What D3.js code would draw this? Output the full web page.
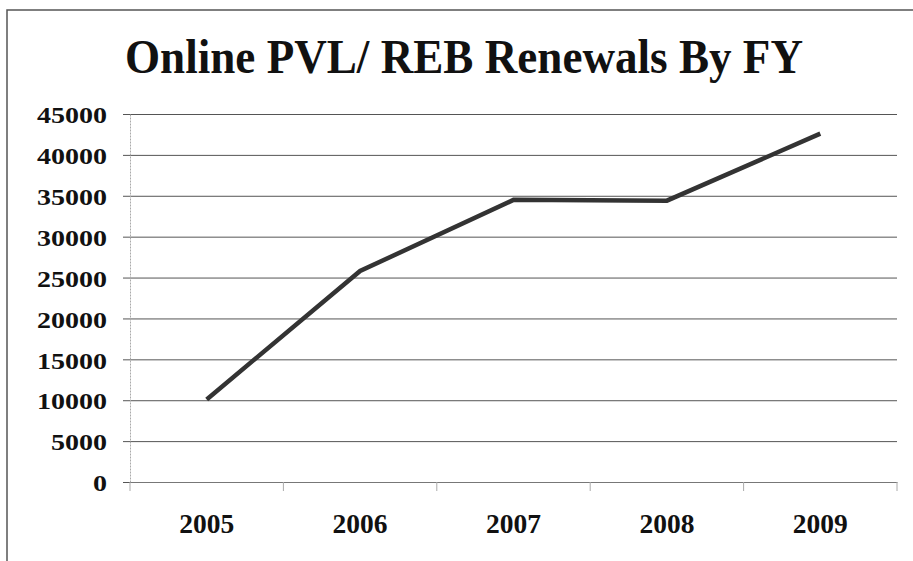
<!DOCTYPE html>
<html>
<head>
<meta charset="utf-8">
<script src="https://cdn.jsdelivr.net/npm/d3@7"></script>
<style>
  html, body { margin: 0; padding: 0; background: #fff; }
  svg { display: block; }
</style>
</head>
<body>
<svg id="chart" width="913" height="561"></svg>
<script>
const title = "Online PVL/ REB Renewals By FY";
const categories = ["2005", "2006", "2007", "2008", "2009"];
const renewals = [10100, 25800, 34500, 34400, 42600];
const yTicks = [0, 5000, 10000, 15000, 20000, 25000, 30000, 35000, 40000, 45000];

const svg = d3.select("#chart");
const W = 913, H = 561;
const plot = { left: 130, right: 897, top: 114, bottom: 482 };

// frame (scanned page border)
svg.append("path")
  .attr("d", `M7,${H} L7,10 L${W},10`)
  .attr("fill", "none").attr("stroke", "#555").attr("stroke-width", 1.5);

// title
svg.append("text")
  .attr("x", 125).attr("y", 73)
  .attr("textLength", 678).attr("lengthAdjust", "spacingAndGlyphs")
  .attr("font-family", "'Liberation Serif', serif")
  .attr("font-weight", "bold").attr("font-size", 48)
  .attr("fill", "#111")
  .text(title);

const x = d3.scaleBand().domain(categories).range([plot.left, plot.right]).padding(0);
const y = d3.scaleLinear().domain([0, 45000]).range([plot.bottom, plot.top]);

// gridlines
svg.append("g")
  .selectAll("line").data(yTicks).join("line")
  .attr("x1", plot.left - 7).attr("x2", plot.right)
  .attr("y1", d => y(d) + 0.5).attr("y2", d => y(d) + 0.5)
  .attr("stroke", "#555").attr("stroke-width", 1);

// y axis
const yAxis = svg.append("g").attr("transform", `translate(${plot.left},0)`)
  .call(d3.axisLeft(y).tickValues(yTicks).tickSize(0).tickPadding(23).tickFormat(d3.format("d")));
yAxis.select(".domain").attr("stroke", "#aaa").attr("stroke-dasharray", "2,1");
yAxis.selectAll("text")
  .attr("font-family", "'Liberation Serif', serif").attr("font-weight", "bold")
  .attr("font-size", 23).attr("fill", "#111")
  .attr("dy", "0.38em")
  .attr("textLength", d => String(d).length * 14)
  .attr("lengthAdjust", "spacingAndGlyphs");

// x axis
const xAxis = svg.append("g").attr("transform", `translate(0,${plot.bottom})`)
  .call(d3.axisBottom(x).tickSize(0).tickPadding(32));
xAxis.select(".domain").attr("stroke", "#777");
xAxis.selectAll("text")
  .attr("font-family", "'Liberation Serif', serif").attr("font-weight", "bold")
  .attr("font-size", 27).attr("fill", "#111")
  .attr("textLength", 55).attr("lengthAdjust", "spacingAndGlyphs");

// x boundary ticks
const bounds = categories.map(c => x(c)).concat([x(categories[categories.length - 1]) + x.bandwidth()]);
svg.append("g").selectAll("line").data(bounds).join("line")
  .attr("x1", d => d).attr("x2", d => d)
  .attr("y1", plot.bottom).attr("y2", plot.bottom + 9)
  .attr("stroke", "#aaa").attr("stroke-width", 1);

// line
const line = d3.line()
  .x((d, i) => x(categories[i]) + x.bandwidth() / 2)
  .y(d => y(d));
svg.append("path")
  .datum(renewals)
  .attr("d", line)
  .attr("fill", "none").attr("stroke", "#333")
  .attr("stroke-width", 4.5).attr("stroke-linejoin", "miter");
</script>
</body>
</html>
